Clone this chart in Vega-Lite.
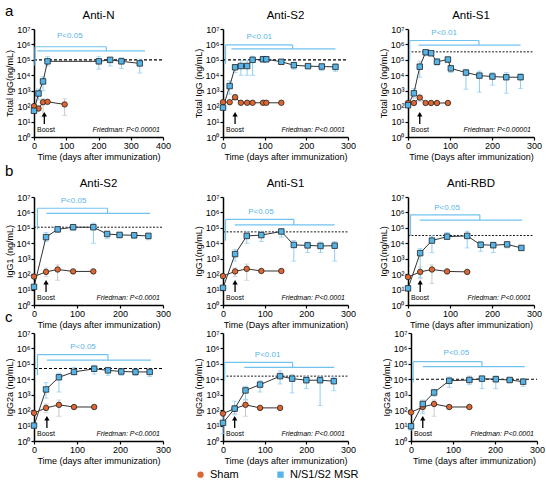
{
"$schema": "https://vega.github.io/schema/vega-lite/v6.json",
"padding": {"left": 5, "top": 3, "right": 3, "bottom": 0},
"config": {
  "font": "Liberation Sans",
  "view": {"stroke": null},
  "axis": {"grid": false, "domainColor": "#000", "domainWidth": 1.5, "tickColor": "#000", "tickWidth": 1.2, "tickSize": 3, "labelFontSize": 9, "labelColor": "#000", "labelPadding": 1, "titleFontSize": 9, "titleFontWeight": "normal", "titleColor": "#000", "titlePadding": 2, "labelFlush": false, "labelOverlap": false},
  "title": {"fontSize": 11.5, "fontWeight": 400, "color": "#000", "offset": 0}
},
"resolve": {"legend": {"fill": "independent", "shape": "independent"}},
"data": {"values": [
{"p":"a1","k":"pt","g":"Sham","x":0,"y":100},
{"p":"a1","k":"pt","g":"Sham","x":14,"y":70,"lo":50,"hi":100},
{"p":"a1","k":"pt","g":"Sham","x":28,"y":180,"lo":20,"hi":300},
{"p":"a1","k":"pt","g":"Sham","x":42,"y":190,"lo":150,"hi":220},
{"p":"a1","k":"pt","g":"Sham","x":95,"y":130,"lo":25,"hi":300},
{"p":"a1","k":"pt","g":"N/S1/S2 MSR","x":0,"y":50,"lo":40,"hi":65},
{"p":"a1","k":"pt","g":"N/S1/S2 MSR","x":14,"y":660,"lo":250,"hi":1300},
{"p":"a1","k":"pt","g":"N/S1/S2 MSR","x":28,"y":4000,"lo":1000,"hi":8000},
{"p":"a1","k":"pt","g":"N/S1/S2 MSR","x":42,"y":80000,"lo":40000,"hi":160000},
{"p":"a1","k":"pt","g":"N/S1/S2 MSR","x":201,"y":80000,"lo":25000,"hi":160000},
{"p":"a1","k":"pt","g":"N/S1/S2 MSR","x":236,"y":100000,"lo":40000,"hi":140000},
{"p":"a1","k":"pt","g":"N/S1/S2 MSR","x":271,"y":80000,"lo":28000,"hi":140000},
{"p":"a1","k":"pt","g":"N/S1/S2 MSR","x":328,"y":59000,"lo":14000,"hi":110000},
{"p":"a1","k":"ref","x":0,"x2":400,"y":100000},
{"p":"a1","k":"br","x":3,"x2":3,"y":42000,"y2":708000},
{"p":"a1","k":"br","x":3,"x2":224,"y":708000,"y2":708000},
{"p":"a1","k":"br","x":224,"x2":224,"y":708000,"y2":380000},
{"p":"a1","k":"br","x":10,"x2":344,"y":380000,"y2":380000},
{"p":"a1","k":"pv","x":111,"y":3400000,"txt":"P<0.05"},
{"p":"a1","k":"arr","x":32,"y":7,"y2":30},
{"p":"a1","k":"bt","x":0,"y":3,"txt":"Boost"},
{"p":"a1","k":"fr","x":400,"y":3,"txt":"Friedman: P<0.00001"},

{"p":"a2","k":"pt","g":"Sham","x":0,"y":180},
{"p":"a2","k":"pt","g":"Sham","x":16,"y":180},
{"p":"a2","k":"pt","g":"Sham","x":29,"y":380,"lo":240,"hi":560},
{"p":"a2","k":"pt","g":"Sham","x":43,"y":165},
{"p":"a2","k":"pt","g":"Sham","x":58,"y":165},
{"p":"a2","k":"pt","g":"Sham","x":71,"y":165},
{"p":"a2","k":"pt","g":"Sham","x":96,"y":165},
{"p":"a2","k":"pt","g":"Sham","x":104,"y":165},
{"p":"a2","k":"pt","g":"Sham","x":140,"y":165},
{"p":"a2","k":"pt","g":"N/S1/S2 MSR","x":0,"y":80,"lo":65,"hi":100},
{"p":"a2","k":"pt","g":"N/S1/S2 MSR","x":16,"y":2000,"lo":600,"hi":4500},
{"p":"a2","k":"pt","g":"N/S1/S2 MSR","x":29,"y":33000,"lo":15000,"hi":45000},
{"p":"a2","k":"pt","g":"N/S1/S2 MSR","x":43,"y":40000,"lo":10000,"hi":90000},
{"p":"a2","k":"pt","g":"N/S1/S2 MSR","x":58,"y":40000,"lo":10000,"hi":90000},
{"p":"a2","k":"pt","g":"N/S1/S2 MSR","x":71,"y":100000,"lo":10000,"hi":170000},
{"p":"a2","k":"pt","g":"N/S1/S2 MSR","x":96,"y":110000,"lo":70000,"hi":140000},
{"p":"a2","k":"pt","g":"N/S1/S2 MSR","x":104,"y":110000,"lo":70000,"hi":140000},
{"p":"a2","k":"pt","g":"N/S1/S2 MSR","x":140,"y":75000,"lo":50000,"hi":100000},
{"p":"a2","k":"pt","g":"N/S1/S2 MSR","x":170,"y":45000,"lo":25000,"hi":70000},
{"p":"a2","k":"pt","g":"N/S1/S2 MSR","x":204,"y":39000,"lo":28000,"hi":50000},
{"p":"a2","k":"pt","g":"N/S1/S2 MSR","x":237,"y":37000,"lo":20000,"hi":55000},
{"p":"a2","k":"pt","g":"N/S1/S2 MSR","x":270,"y":35000,"lo":18000,"hi":55000},
{"p":"a2","k":"ref","x":0,"x2":300,"y":100000},
{"p":"a2","k":"br","x":6,"x2":6,"y":55000,"y2":930000},
{"p":"a2","k":"br","x":6,"x2":167,"y":930000,"y2":930000},
{"p":"a2","k":"br","x":167,"x2":167,"y":930000,"y2":510000},
{"p":"a2","k":"br","x":20,"x2":270,"y":510000,"y2":510000},
{"p":"a2","k":"pv","x":87,"y":2900000,"txt":"P<0.01"},
{"p":"a2","k":"arr","x":29,"y":7,"y2":30},
{"p":"a2","k":"bt","x":0,"y":3,"txt":"Boost"},
{"p":"a2","k":"fr","x":300,"y":3,"txt":"Friedman: P<0.0001"},

{"p":"a3","k":"pt","g":"Sham","x":0,"y":160},
{"p":"a3","k":"pt","g":"Sham","x":14,"y":160},
{"p":"a3","k":"pt","g":"Sham","x":28,"y":360,"lo":200,"hi":500},
{"p":"a3","k":"pt","g":"Sham","x":42,"y":160},
{"p":"a3","k":"pt","g":"Sham","x":55,"y":160},
{"p":"a3","k":"pt","g":"Sham","x":69,"y":160},
{"p":"a3","k":"pt","g":"Sham","x":95,"y":160},
{"p":"a3","k":"pt","g":"N/S1/S2 MSR","x":0,"y":115,"lo":85,"hi":160},
{"p":"a3","k":"pt","g":"N/S1/S2 MSR","x":14,"y":680,"lo":330,"hi":1400},
{"p":"a3","k":"pt","g":"N/S1/S2 MSR","x":28,"y":36000,"lo":7500,"hi":83000},
{"p":"a3","k":"pt","g":"N/S1/S2 MSR","x":42,"y":310000,"lo":200000,"hi":400000},
{"p":"a3","k":"pt","g":"N/S1/S2 MSR","x":55,"y":270000,"lo":180000,"hi":350000},
{"p":"a3","k":"pt","g":"N/S1/S2 MSR","x":69,"y":75000,"lo":45000,"hi":120000},
{"p":"a3","k":"pt","g":"N/S1/S2 MSR","x":95,"y":105000,"lo":70000,"hi":150000},
{"p":"a3","k":"pt","g":"N/S1/S2 MSR","x":102,"y":28000,"lo":15000,"hi":45000},
{"p":"a3","k":"pt","g":"N/S1/S2 MSR","x":138,"y":15000,"lo":1250,"hi":24000},
{"p":"a3","k":"pt","g":"N/S1/S2 MSR","x":170,"y":9500,"lo":800,"hi":19000},
{"p":"a3","k":"pt","g":"N/S1/S2 MSR","x":201,"y":8300,"lo":2300,"hi":15000},
{"p":"a3","k":"pt","g":"N/S1/S2 MSR","x":234,"y":7500,"lo":680,"hi":15000},
{"p":"a3","k":"pt","g":"N/S1/S2 MSR","x":268,"y":7500,"lo":1400,"hi":13000},
{"p":"a3","k":"ref","x":0,"x2":300,"y":330000},
{"p":"a3","k":"br","x":4,"x2":4,"y":87000,"y2":1800000},
{"p":"a3","k":"br","x":4,"x2":169,"y":1800000,"y2":1800000},
{"p":"a3","k":"br","x":169,"x2":169,"y":1800000,"y2":890000},
{"p":"a3","k":"br","x":25,"x2":268,"y":890000,"y2":890000},
{"p":"a3","k":"pv","x":86,"y":5900000,"txt":"P<0.01"},
{"p":"a3","k":"arr","x":28,"y":7,"y2":30},
{"p":"a3","k":"bt","x":0,"y":3,"txt":"Boost"},
{"p":"a3","k":"fr","x":300,"y":3,"txt":"Friedman: P<0.00001"},

{"p":"b1","k":"pt","g":"Sham","x":0,"y":70},
{"p":"b1","k":"pt","g":"Sham","x":28,"y":140,"lo":70,"hi":250},
{"p":"b1","k":"pt","g":"Sham","x":55,"y":200,"lo":40,"hi":400},
{"p":"b1","k":"pt","g":"Sham","x":91,"y":150},
{"p":"b1","k":"pt","g":"Sham","x":138,"y":150},
{"p":"b1","k":"pt","g":"N/S1/S2 MSR","x":0,"y":15,"lo":12,"hi":20},
{"p":"b1","k":"pt","g":"N/S1/S2 MSR","x":28,"y":25000,"lo":13000,"hi":50000},
{"p":"b1","k":"pt","g":"N/S1/S2 MSR","x":55,"y":80000,"lo":50000,"hi":120000},
{"p":"b1","k":"pt","g":"N/S1/S2 MSR","x":91,"y":110000,"lo":70000,"hi":150000},
{"p":"b1","k":"pt","g":"N/S1/S2 MSR","x":138,"y":110000,"lo":10000,"hi":200000},
{"p":"b1","k":"pt","g":"N/S1/S2 MSR","x":170,"y":40000,"lo":20000,"hi":60000},
{"p":"b1","k":"pt","g":"N/S1/S2 MSR","x":199,"y":35000,"lo":22000,"hi":50000},
{"p":"b1","k":"pt","g":"N/S1/S2 MSR","x":233,"y":33000,"lo":20000,"hi":45000},
{"p":"b1","k":"pt","g":"N/S1/S2 MSR","x":266,"y":30000,"lo":17000,"hi":45000},
{"p":"b1","k":"ref","x":0,"x2":300,"y":110000},
{"p":"b1","k":"br","x":8,"x2":8,"y":80000,"y2":1860000},
{"p":"b1","k":"br","x":8,"x2":171,"y":1860000,"y2":1860000},
{"p":"b1","k":"br","x":171,"x2":171,"y":1860000,"y2":870000},
{"p":"b1","k":"br","x":29,"x2":270,"y":870000,"y2":870000},
{"p":"b1","k":"pv","x":92,"y":5400000,"txt":"P<0.05"},
{"p":"b1","k":"arr","x":28,"y":7,"y2":30},
{"p":"b1","k":"bt","x":0,"y":3,"txt":"Boost"},
{"p":"b1","k":"fr","x":300,"y":3,"txt":"Friedman: P<0.0001"},

{"p":"b2","k":"pt","g":"Sham","x":0,"y":75},
{"p":"b2","k":"pt","g":"Sham","x":29,"y":150,"lo":70,"hi":250},
{"p":"b2","k":"pt","g":"Sham","x":57,"y":220,"lo":40,"hi":450},
{"p":"b2","k":"pt","g":"Sham","x":92,"y":160},
{"p":"b2","k":"pt","g":"Sham","x":140,"y":160},
{"p":"b2","k":"pt","g":"N/S1/S2 MSR","x":0,"y":13,"lo":10,"hi":17},
{"p":"b2","k":"pt","g":"N/S1/S2 MSR","x":29,"y":2000,"lo":700,"hi":4000},
{"p":"b2","k":"pt","g":"N/S1/S2 MSR","x":57,"y":30000,"lo":10000,"hi":60000},
{"p":"b2","k":"pt","g":"N/S1/S2 MSR","x":92,"y":34000,"lo":13000,"hi":60000},
{"p":"b2","k":"pt","g":"N/S1/S2 MSR","x":140,"y":58000,"lo":25000,"hi":90000},
{"p":"b2","k":"pt","g":"N/S1/S2 MSR","x":170,"y":7800,"lo":700,"hi":15000},
{"p":"b2","k":"pt","g":"N/S1/S2 MSR","x":203,"y":7300,"lo":2500,"hi":12000},
{"p":"b2","k":"pt","g":"N/S1/S2 MSR","x":234,"y":6700,"lo":2500,"hi":12000},
{"p":"b2","k":"pt","g":"N/S1/S2 MSR","x":268,"y":7000,"lo":700,"hi":13000},
{"p":"b2","k":"ref","x":0,"x2":300,"y":55000},
{"p":"b2","k":"br","x":6,"x2":6,"y":14500,"y2":355000},
{"p":"b2","k":"br","x":6,"x2":170,"y":355000,"y2":355000},
{"p":"b2","k":"br","x":170,"x2":170,"y":355000,"y2":155000},
{"p":"b2","k":"br","x":28,"x2":268,"y":155000,"y2":155000},
{"p":"b2","k":"pv","x":91,"y":1050000,"txt":"P<0.05"},
{"p":"b2","k":"arr","x":29,"y":7,"y2":30},
{"p":"b2","k":"bt","x":0,"y":3,"txt":"Boost"},
{"p":"b2","k":"fr","x":300,"y":3,"txt":"Friedman: P<0.0001"},

{"p":"b3","k":"pt","g":"Sham","x":0,"y":65},
{"p":"b3","k":"pt","g":"Sham","x":29,"y":140,"lo":50,"hi":300},
{"p":"b3","k":"pt","g":"Sham","x":57,"y":200,"lo":25,"hi":400},
{"p":"b3","k":"pt","g":"Sham","x":93,"y":150},
{"p":"b3","k":"pt","g":"Sham","x":141,"y":140},
{"p":"b3","k":"pt","g":"N/S1/S2 MSR","x":0,"y":12,"lo":10,"hi":15},
{"p":"b3","k":"pt","g":"N/S1/S2 MSR","x":29,"y":2300,"lo":60,"hi":4500},
{"p":"b3","k":"pt","g":"N/S1/S2 MSR","x":57,"y":15000,"lo":2500,"hi":30000},
{"p":"b3","k":"pt","g":"N/S1/S2 MSR","x":93,"y":27000,"lo":18000,"hi":50000},
{"p":"b3","k":"pt","g":"N/S1/S2 MSR","x":141,"y":30000,"lo":5000,"hi":60000},
{"p":"b3","k":"pt","g":"N/S1/S2 MSR","x":173,"y":8000,"lo":3000,"hi":13000},
{"p":"b3","k":"pt","g":"N/S1/S2 MSR","x":203,"y":7500,"lo":2500,"hi":12000},
{"p":"b3","k":"pt","g":"N/S1/S2 MSR","x":236,"y":8500,"lo":5000,"hi":12000},
{"p":"b3","k":"pt","g":"N/S1/S2 MSR","x":270,"y":5000,"lo":3500,"hi":6500},
{"p":"b3","k":"ref","x":0,"x2":300,"y":32000},
{"p":"b3","k":"br","x":6,"x2":6,"y":30000,"y2":700000},
{"p":"b3","k":"br","x":6,"x2":171,"y":700000,"y2":700000},
{"p":"b3","k":"br","x":171,"x2":171,"y":700000,"y2":320000},
{"p":"b3","k":"br","x":28,"x2":272,"y":320000,"y2":320000},
{"p":"b3","k":"pv","x":93,"y":2000000,"txt":"P<0.05"},
{"p":"b3","k":"arr","x":29,"y":7,"y2":30},
{"p":"b3","k":"bt","x":0,"y":3,"txt":"Boost"},
{"p":"b3","k":"fr","x":300,"y":3,"txt":"Friedman: P<0.0001"},

{"p":"c1","k":"pt","g":"Sham","x":0,"y":66},
{"p":"c1","k":"pt","g":"Sham","x":28,"y":140,"lo":70,"hi":250},
{"p":"c1","k":"pt","g":"Sham","x":58,"y":220,"lo":40,"hi":450},
{"p":"c1","k":"pt","g":"Sham","x":93,"y":160},
{"p":"c1","k":"pt","g":"Sham","x":140,"y":160},
{"p":"c1","k":"pt","g":"N/S1/S2 MSR","x":0,"y":10,"lo":8,"hi":12},
{"p":"c1","k":"pt","g":"N/S1/S2 MSR","x":28,"y":2200,"lo":600,"hi":6000},
{"p":"c1","k":"pt","g":"N/S1/S2 MSR","x":58,"y":13500,"lo":1500,"hi":25000},
{"p":"c1","k":"pt","g":"N/S1/S2 MSR","x":93,"y":30000,"lo":20000,"hi":60000},
{"p":"c1","k":"pt","g":"N/S1/S2 MSR","x":140,"y":48000,"lo":22000,"hi":80000},
{"p":"c1","k":"pt","g":"N/S1/S2 MSR","x":172,"y":38000,"lo":18000,"hi":60000},
{"p":"c1","k":"pt","g":"N/S1/S2 MSR","x":203,"y":32000,"lo":18000,"hi":45000},
{"p":"c1","k":"pt","g":"N/S1/S2 MSR","x":236,"y":30000,"lo":18000,"hi":45000},
{"p":"c1","k":"pt","g":"N/S1/S2 MSR","x":269,"y":30000,"lo":15000,"hi":45000},
{"p":"c1","k":"ref","x":0,"x2":300,"y":50000},
{"p":"c1","k":"br","x":8,"x2":8,"y":18600,"y2":400000},
{"p":"c1","k":"br","x":8,"x2":172,"y":400000,"y2":400000},
{"p":"c1","k":"br","x":172,"x2":172,"y":400000,"y2":174000},
{"p":"c1","k":"br","x":30,"x2":272,"y":174000,"y2":174000},
{"p":"c1","k":"pv","x":114,"y":1300000,"txt":"P<0.05"},
{"p":"c1","k":"arr","x":30,"y":7,"y2":30},
{"p":"c1","k":"bt","x":0,"y":3,"txt":"Boost"},
{"p":"c1","k":"fr","x":300,"y":3,"txt":"Friedman: P<0.0001"},

{"p":"c2","k":"pt","g":"Sham","x":0,"y":60},
{"p":"c2","k":"pt","g":"Sham","x":28,"y":125,"lo":60,"hi":200},
{"p":"c2","k":"pt","g":"Sham","x":54,"y":220,"lo":40,"hi":450},
{"p":"c2","k":"pt","g":"Sham","x":89,"y":140},
{"p":"c2","k":"pt","g":"Sham","x":137,"y":140},
{"p":"c2","k":"pt","g":"N/S1/S2 MSR","x":0,"y":15,"lo":3,"hi":80},
{"p":"c2","k":"pt","g":"N/S1/S2 MSR","x":28,"y":125,"lo":50,"hi":380},
{"p":"c2","k":"pt","g":"N/S1/S2 MSR","x":54,"y":1900,"lo":500,"hi":3500},
{"p":"c2","k":"pt","g":"N/S1/S2 MSR","x":89,"y":4500,"lo":1500,"hi":8000},
{"p":"c2","k":"pt","g":"N/S1/S2 MSR","x":137,"y":16000,"lo":5000,"hi":35000},
{"p":"c2","k":"pt","g":"N/S1/S2 MSR","x":166,"y":11000,"lo":1300,"hi":20000},
{"p":"c2","k":"pt","g":"N/S1/S2 MSR","x":200,"y":8700,"lo":2500,"hi":15000},
{"p":"c2","k":"pt","g":"N/S1/S2 MSR","x":233,"y":8700,"lo":200,"hi":16000},
{"p":"c2","k":"pt","g":"N/S1/S2 MSR","x":266,"y":7500,"lo":1800,"hi":14000},
{"p":"c2","k":"ref","x":0,"x2":300,"y":16000},
{"p":"c2","k":"br","x":4,"x2":4,"y":7600,"y2":126000},
{"p":"c2","k":"br","x":4,"x2":167,"y":126000,"y2":126000},
{"p":"c2","k":"br","x":167,"x2":167,"y":126000,"y2":60000},
{"p":"c2","k":"br","x":51,"x2":267,"y":60000,"y2":60000},
{"p":"c2","k":"pv","x":107,"y":400000,"txt":"P<0.01"},
{"p":"c2","k":"arr","x":28,"y":7,"y2":30},
{"p":"c2","k":"bt","x":0,"y":3,"txt":"Boost"},
{"p":"c2","k":"fr","x":300,"y":3,"txt":"Friedman: P<0.0001"},

{"p":"c3","k":"pt","g":"Sham","x":0,"y":72},
{"p":"c3","k":"pt","g":"Sham","x":28,"y":160,"lo":80,"hi":300},
{"p":"c3","k":"pt","g":"Sham","x":55,"y":250,"lo":40,"hi":450},
{"p":"c3","k":"pt","g":"Sham","x":91,"y":160},
{"p":"c3","k":"pt","g":"Sham","x":139,"y":160},
{"p":"c3","k":"pt","g":"N/S1/S2 MSR","x":0,"y":9,"lo":5,"hi":13},
{"p":"c3","k":"pt","g":"N/S1/S2 MSR","x":28,"y":250,"lo":60,"hi":450},
{"p":"c3","k":"pt","g":"N/S1/S2 MSR","x":55,"y":1400,"lo":800,"hi":2200},
{"p":"c3","k":"pt","g":"N/S1/S2 MSR","x":91,"y":8000,"lo":3000,"hi":14000},
{"p":"c3","k":"pt","g":"N/S1/S2 MSR","x":139,"y":9000,"lo":4500,"hi":16000},
{"p":"c3","k":"pt","g":"N/S1/S2 MSR","x":169,"y":11000,"lo":2500,"hi":16000},
{"p":"c3","k":"pt","g":"N/S1/S2 MSR","x":202,"y":10000,"lo":2500,"hi":17000},
{"p":"c3","k":"pt","g":"N/S1/S2 MSR","x":235,"y":9000,"lo":6000,"hi":12000},
{"p":"c3","k":"pt","g":"N/S1/S2 MSR","x":267,"y":7000,"lo":3500,"hi":10000},
{"p":"c3","k":"ref","x":0,"x2":300,"y":10000},
{"p":"c3","k":"br","x":5,"x2":5,"y":6300,"y2":138000},
{"p":"c3","k":"br","x":5,"x2":169,"y":138000,"y2":138000},
{"p":"c3","k":"br","x":169,"x2":169,"y":138000,"y2":66000},
{"p":"c3","k":"br","x":28,"x2":271,"y":66000,"y2":66000},
{"p":"c3","k":"pv","x":108,"y":470000,"txt":"P<0.05"},
{"p":"c3","k":"arr","x":28,"y":7,"y2":30},
{"p":"c3","k":"bt","x":0,"y":3,"txt":"Boost"},
{"p":"c3","k":"fr","x":300,"y":3,"txt":"Friedman: P<0.0001"}
]},
"spacing": -19,
"vconcat": [
{"spacing": 2, "vconcat": [
{"spacing": 23, "title": {"text": "a", "anchor": "start", "fontSize": 15, "fontWeight": 400, "dy": 13},
 "hconcat": [
{"title": "Anti-N", "width": 129, "height": 108, "transform": [{"filter": "datum.p=='a1'"}],
 "encoding": {"x": {"field": "x", "type": "quantitative", "scale": {"domain": [0, 400], "nice": false}, "axis": {"title": "Time (days after immunization)", "values": [0, 100, 200, 300, 400]}},
  "y": {"field": "y", "type": "quantitative", "scale": {"type": "log", "domain": [1, 10000000], "nice": false}, "axis": {"title": "Total IgG(ng/mL)", "values": [1, 10, 100, 1000, 10000, 100000, 1000000, 10000000], "labelExpr": "'10' + ['⁰','¹','²','³','⁴','⁵','⁶','⁷'][round(log(datum.value)/LN10)]"}}},
 "layer": [
  {"transform": [{"filter": "datum.k=='ref'"}], "mark": {"type": "rule", "strokeDash": [3, 2], "color": "#000", "strokeWidth": 1.1}, "encoding": {"x2": {"field": "x2"}}},
  {"transform": [{"filter": "datum.k=='br'"}], "mark": {"type": "rule", "color": "#72c2ee", "strokeWidth": 1.2}, "encoding": {"x2": {"field": "x2"}, "y2": {"field": "y2"}}},
  {"transform": [{"filter": "datum.k=='pt'"}], "mark": {"type": "rule", "strokeWidth": 1}, "encoding": {"y": {"field": "lo", "type": "quantitative", "scale": {"type": "log", "domain": [1, 10000000], "nice": false}}, "y2": {"field": "hi"}, "color": {"field": "g", "type": "nominal", "scale": {"domain": ["Sham", "N/S1/S2 MSR"], "range": ["#c8c8c8", "#8ccdf1"]}, "legend": null}}},
  {"transform": [{"filter": "datum.k=='pt'"}, {"fold": ["lo", "hi"], "as": ["cap", "cy"]}], "mark": {"type": "tick", "orient": "horizontal", "size": 5, "thickness": 1}, "encoding": {"y": {"field": "cy", "type": "quantitative", "scale": {"type": "log", "domain": [1, 10000000], "nice": false}}, "color": {"field": "g", "type": "nominal", "scale": {"domain": ["Sham", "N/S1/S2 MSR"], "range": ["#c8c8c8", "#8ccdf1"]}, "legend": null}}},
  {"transform": [{"filter": "datum.k=='pt'"}], "mark": {"type": "line", "color": "#333", "strokeWidth": 1}, "encoding": {"detail": {"field": "g"}}},
  {"transform": [{"filter": "datum.k=='pt'"}], "mark": {"type": "point", "filled": true, "size": 30, "stroke": "#222", "strokeWidth": 0.8, "opacity": 1}, "encoding": {"fill": {"field": "g", "type": "nominal", "scale": {"domain": ["Sham", "N/S1/S2 MSR"], "range": ["#dd6631", "#55b4e8"]}, "legend": null}, "shape": {"field": "g", "type": "nominal", "scale": {"domain": ["Sham", "N/S1/S2 MSR"], "range": ["circle", "square"]}, "legend": null}}},
  {"transform": [{"filter": "datum.k=='arr'"}], "mark": {"type": "rule", "color": "#000", "strokeWidth": 1.3}, "encoding": {"y2": {"field": "y2"}}},
  {"transform": [{"filter": "datum.k=='arr'"}], "mark": {"type": "point", "shape": "triangle-up", "filled": true, "color": "#000", "size": 28, "opacity": 1}, "encoding": {"y": {"field": "y2", "type": "quantitative", "scale": {"type": "log", "domain": [1, 10000000], "nice": false}}}},
  {"transform": [{"filter": "datum.k=='pv'"}], "mark": {"type": "text", "color": "#5ab4e6", "fontSize": 8}, "encoding": {"text": {"field": "txt"}}},
  {"transform": [{"filter": "datum.k=='bt'"}], "mark": {"type": "text", "align": "left", "dx": 3, "fontSize": 7}, "encoding": {"text": {"field": "txt"}}},
  {"transform": [{"filter": "datum.k=='fr'"}], "mark": {"type": "text", "align": "right", "dx": -3, "fontSize": 7, "fontStyle": "italic"}, "encoding": {"text": {"field": "txt"}}}
 ]},
{"title": "Anti-S2", "width": 125, "height": 108, "transform": [{"filter": "datum.p=='a2'"}],
 "encoding": {"x": {"field": "x", "type": "quantitative", "scale": {"domain": [0, 300], "nice": false}, "axis": {"title": "Time (days after immunization)", "values": [0, 100, 200, 300]}},
  "y": {"field": "y", "type": "quantitative", "scale": {"type": "log", "domain": [1, 10000000], "nice": false}, "axis": {"title": "Total IgG (ng/mL)", "values": [1, 10, 100, 1000, 10000, 100000, 1000000, 10000000], "labelExpr": "'10' + ['⁰','¹','²','³','⁴','⁵','⁶','⁷'][round(log(datum.value)/LN10)]"}}},
 "layer": [
  {"transform": [{"filter": "datum.k=='ref'"}], "mark": {"type": "rule", "strokeDash": [3, 2], "color": "#000", "strokeWidth": 1.1}, "encoding": {"x2": {"field": "x2"}}},
  {"transform": [{"filter": "datum.k=='br'"}], "mark": {"type": "rule", "color": "#72c2ee", "strokeWidth": 1.2}, "encoding": {"x2": {"field": "x2"}, "y2": {"field": "y2"}}},
  {"transform": [{"filter": "datum.k=='pt'"}], "mark": {"type": "rule", "strokeWidth": 1}, "encoding": {"y": {"field": "lo", "type": "quantitative", "scale": {"type": "log", "domain": [1, 10000000], "nice": false}}, "y2": {"field": "hi"}, "color": {"field": "g", "type": "nominal", "scale": {"domain": ["Sham", "N/S1/S2 MSR"], "range": ["#c8c8c8", "#8ccdf1"]}, "legend": null}}},
  {"transform": [{"filter": "datum.k=='pt'"}, {"fold": ["lo", "hi"], "as": ["cap", "cy"]}], "mark": {"type": "tick", "orient": "horizontal", "size": 5, "thickness": 1}, "encoding": {"y": {"field": "cy", "type": "quantitative", "scale": {"type": "log", "domain": [1, 10000000], "nice": false}}, "color": {"field": "g", "type": "nominal", "scale": {"domain": ["Sham", "N/S1/S2 MSR"], "range": ["#c8c8c8", "#8ccdf1"]}, "legend": null}}},
  {"transform": [{"filter": "datum.k=='pt'"}], "mark": {"type": "line", "color": "#333", "strokeWidth": 1}, "encoding": {"detail": {"field": "g"}}},
  {"transform": [{"filter": "datum.k=='pt'"}], "mark": {"type": "point", "filled": true, "size": 30, "stroke": "#222", "strokeWidth": 0.8, "opacity": 1}, "encoding": {"fill": {"field": "g", "type": "nominal", "scale": {"domain": ["Sham", "N/S1/S2 MSR"], "range": ["#dd6631", "#55b4e8"]}, "legend": null}, "shape": {"field": "g", "type": "nominal", "scale": {"domain": ["Sham", "N/S1/S2 MSR"], "range": ["circle", "square"]}, "legend": null}}},
  {"transform": [{"filter": "datum.k=='arr'"}], "mark": {"type": "rule", "color": "#000", "strokeWidth": 1.3}, "encoding": {"y2": {"field": "y2"}}},
  {"transform": [{"filter": "datum.k=='arr'"}], "mark": {"type": "point", "shape": "triangle-up", "filled": true, "color": "#000", "size": 28, "opacity": 1}, "encoding": {"y": {"field": "y2", "type": "quantitative", "scale": {"type": "log", "domain": [1, 10000000], "nice": false}}}},
  {"transform": [{"filter": "datum.k=='pv'"}], "mark": {"type": "text", "color": "#5ab4e6", "fontSize": 8}, "encoding": {"text": {"field": "txt"}}},
  {"transform": [{"filter": "datum.k=='bt'"}], "mark": {"type": "text", "align": "left", "dx": 3, "fontSize": 7}, "encoding": {"text": {"field": "txt"}}},
  {"transform": [{"filter": "datum.k=='fr'"}], "mark": {"type": "text", "align": "right", "dx": -3, "fontSize": 7, "fontStyle": "italic"}, "encoding": {"text": {"field": "txt"}}}
 ]},
{"title": "Anti-S1", "width": 126, "height": 108, "transform": [{"filter": "datum.p=='a3'"}],
 "encoding": {"x": {"field": "x", "type": "quantitative", "scale": {"domain": [0, 300], "nice": false}, "axis": {"title": "Time (Days after immunization)", "values": [0, 100, 200, 300]}},
  "y": {"field": "y", "type": "quantitative", "scale": {"type": "log", "domain": [1, 10000000], "nice": false}, "axis": {"title": "Total IgG (ng/mL)", "values": [1, 10, 100, 1000, 10000, 100000, 1000000, 10000000], "labelExpr": "'10' + ['⁰','¹','²','³','⁴','⁵','⁶','⁷'][round(log(datum.value)/LN10)]"}}},
 "layer": [
  {"transform": [{"filter": "datum.k=='ref'"}], "mark": {"type": "rule", "strokeDash": [2, 1.5], "color": "#000", "strokeWidth": 0.9}, "encoding": {"x2": {"field": "x2"}}},
  {"transform": [{"filter": "datum.k=='br'"}], "mark": {"type": "rule", "color": "#72c2ee", "strokeWidth": 1.2}, "encoding": {"x2": {"field": "x2"}, "y2": {"field": "y2"}}},
  {"transform": [{"filter": "datum.k=='pt'"}], "mark": {"type": "rule", "strokeWidth": 1}, "encoding": {"y": {"field": "lo", "type": "quantitative", "scale": {"type": "log", "domain": [1, 10000000], "nice": false}}, "y2": {"field": "hi"}, "color": {"field": "g", "type": "nominal", "scale": {"domain": ["Sham", "N/S1/S2 MSR"], "range": ["#c8c8c8", "#8ccdf1"]}, "legend": null}}},
  {"transform": [{"filter": "datum.k=='pt'"}, {"fold": ["lo", "hi"], "as": ["cap", "cy"]}], "mark": {"type": "tick", "orient": "horizontal", "size": 5, "thickness": 1}, "encoding": {"y": {"field": "cy", "type": "quantitative", "scale": {"type": "log", "domain": [1, 10000000], "nice": false}}, "color": {"field": "g", "type": "nominal", "scale": {"domain": ["Sham", "N/S1/S2 MSR"], "range": ["#c8c8c8", "#8ccdf1"]}, "legend": null}}},
  {"transform": [{"filter": "datum.k=='pt'"}], "mark": {"type": "line", "color": "#333", "strokeWidth": 1}, "encoding": {"detail": {"field": "g"}}},
  {"transform": [{"filter": "datum.k=='pt'"}], "mark": {"type": "point", "filled": true, "size": 30, "stroke": "#222", "strokeWidth": 0.8, "opacity": 1}, "encoding": {"fill": {"field": "g", "type": "nominal", "scale": {"domain": ["Sham", "N/S1/S2 MSR"], "range": ["#dd6631", "#55b4e8"]}, "legend": null}, "shape": {"field": "g", "type": "nominal", "scale": {"domain": ["Sham", "N/S1/S2 MSR"], "range": ["circle", "square"]}, "legend": null}}},
  {"transform": [{"filter": "datum.k=='arr'"}], "mark": {"type": "rule", "color": "#000", "strokeWidth": 1.3}, "encoding": {"y2": {"field": "y2"}}},
  {"transform": [{"filter": "datum.k=='arr'"}], "mark": {"type": "point", "shape": "triangle-up", "filled": true, "color": "#000", "size": 28, "opacity": 1}, "encoding": {"y": {"field": "y2", "type": "quantitative", "scale": {"type": "log", "domain": [1, 10000000], "nice": false}}}},
  {"transform": [{"filter": "datum.k=='pv'"}], "mark": {"type": "text", "color": "#5ab4e6", "fontSize": 8}, "encoding": {"text": {"field": "txt"}}},
  {"transform": [{"filter": "datum.k=='bt'"}], "mark": {"type": "text", "align": "left", "dx": 3, "fontSize": 7}, "encoding": {"text": {"field": "txt"}}},
  {"transform": [{"filter": "datum.k=='fr'"}], "mark": {"type": "text", "align": "right", "dx": -3, "fontSize": 7, "fontStyle": "italic"}, "encoding": {"text": {"field": "txt"}}}
 ]}
]},
{"spacing": 23, "title": {"text": "b", "anchor": "start", "fontSize": 15, "fontWeight": 400, "dy": 5},
 "hconcat": [
{"title": "Anti-S2", "width": 129, "height": 108, "transform": [{"filter": "datum.p=='b1'"}],
 "encoding": {"x": {"field": "x", "type": "quantitative", "scale": {"domain": [0, 300], "nice": false}, "axis": {"title": "Time (days after immunization)", "values": [0, 100, 200, 300]}},
  "y": {"field": "y", "type": "quantitative", "scale": {"type": "log", "domain": [1, 10000000], "nice": false}, "axis": {"title": "IgG1 (ng/mL)", "values": [1, 10, 100, 1000, 10000, 100000, 1000000, 10000000], "labelExpr": "'10' + ['⁰','¹','²','³','⁴','⁵','⁶','⁷'][round(log(datum.value)/LN10)]"}}},
 "layer": [
  {"transform": [{"filter": "datum.k=='ref'"}], "mark": {"type": "rule", "strokeDash": [2, 1.5], "color": "#000", "strokeWidth": 0.9}, "encoding": {"x2": {"field": "x2"}}},
  {"transform": [{"filter": "datum.k=='br'"}], "mark": {"type": "rule", "color": "#72c2ee", "strokeWidth": 1.2}, "encoding": {"x2": {"field": "x2"}, "y2": {"field": "y2"}}},
  {"transform": [{"filter": "datum.k=='pt'"}], "mark": {"type": "rule", "strokeWidth": 1}, "encoding": {"y": {"field": "lo", "type": "quantitative", "scale": {"type": "log", "domain": [1, 10000000], "nice": false}}, "y2": {"field": "hi"}, "color": {"field": "g", "type": "nominal", "scale": {"domain": ["Sham", "N/S1/S2 MSR"], "range": ["#c8c8c8", "#8ccdf1"]}, "legend": null}}},
  {"transform": [{"filter": "datum.k=='pt'"}, {"fold": ["lo", "hi"], "as": ["cap", "cy"]}], "mark": {"type": "tick", "orient": "horizontal", "size": 5, "thickness": 1}, "encoding": {"y": {"field": "cy", "type": "quantitative", "scale": {"type": "log", "domain": [1, 10000000], "nice": false}}, "color": {"field": "g", "type": "nominal", "scale": {"domain": ["Sham", "N/S1/S2 MSR"], "range": ["#c8c8c8", "#8ccdf1"]}, "legend": null}}},
  {"transform": [{"filter": "datum.k=='pt'"}], "mark": {"type": "line", "color": "#333", "strokeWidth": 1}, "encoding": {"detail": {"field": "g"}}},
  {"transform": [{"filter": "datum.k=='pt'"}], "mark": {"type": "point", "filled": true, "size": 30, "stroke": "#222", "strokeWidth": 0.8, "opacity": 1}, "encoding": {"fill": {"field": "g", "type": "nominal", "scale": {"domain": ["Sham", "N/S1/S2 MSR"], "range": ["#dd6631", "#55b4e8"]}, "legend": null}, "shape": {"field": "g", "type": "nominal", "scale": {"domain": ["Sham", "N/S1/S2 MSR"], "range": ["circle", "square"]}, "legend": null}}},
  {"transform": [{"filter": "datum.k=='arr'"}], "mark": {"type": "rule", "color": "#000", "strokeWidth": 1.3}, "encoding": {"y2": {"field": "y2"}}},
  {"transform": [{"filter": "datum.k=='arr'"}], "mark": {"type": "point", "shape": "triangle-up", "filled": true, "color": "#000", "size": 28, "opacity": 1}, "encoding": {"y": {"field": "y2", "type": "quantitative", "scale": {"type": "log", "domain": [1, 10000000], "nice": false}}}},
  {"transform": [{"filter": "datum.k=='pv'"}], "mark": {"type": "text", "color": "#5ab4e6", "fontSize": 8}, "encoding": {"text": {"field": "txt"}}},
  {"transform": [{"filter": "datum.k=='bt'"}], "mark": {"type": "text", "align": "left", "dx": 3, "fontSize": 7}, "encoding": {"text": {"field": "txt"}}},
  {"transform": [{"filter": "datum.k=='fr'"}], "mark": {"type": "text", "align": "right", "dx": -3, "fontSize": 7, "fontStyle": "italic"}, "encoding": {"text": {"field": "txt"}}}
 ]},
{"title": "Anti-S1", "width": 125, "height": 108, "transform": [{"filter": "datum.p=='b2'"}],
 "encoding": {"x": {"field": "x", "type": "quantitative", "scale": {"domain": [0, 300], "nice": false}, "axis": {"title": "Time (Days after immunization)", "values": [0, 100, 200, 300]}},
  "y": {"field": "y", "type": "quantitative", "scale": {"type": "log", "domain": [1, 10000000], "nice": false}, "axis": {"title": "IgG1(ng/mL)", "values": [1, 10, 100, 1000, 10000, 100000, 1000000, 10000000], "labelExpr": "'10' + ['⁰','¹','²','³','⁴','⁵','⁶','⁷'][round(log(datum.value)/LN10)]"}}},
 "layer": [
  {"transform": [{"filter": "datum.k=='ref'"}], "mark": {"type": "rule", "strokeDash": [2, 1.5], "color": "#000", "strokeWidth": 0.9}, "encoding": {"x2": {"field": "x2"}}},
  {"transform": [{"filter": "datum.k=='br'"}], "mark": {"type": "rule", "color": "#72c2ee", "strokeWidth": 1.2}, "encoding": {"x2": {"field": "x2"}, "y2": {"field": "y2"}}},
  {"transform": [{"filter": "datum.k=='pt'"}], "mark": {"type": "rule", "strokeWidth": 1}, "encoding": {"y": {"field": "lo", "type": "quantitative", "scale": {"type": "log", "domain": [1, 10000000], "nice": false}}, "y2": {"field": "hi"}, "color": {"field": "g", "type": "nominal", "scale": {"domain": ["Sham", "N/S1/S2 MSR"], "range": ["#c8c8c8", "#8ccdf1"]}, "legend": null}}},
  {"transform": [{"filter": "datum.k=='pt'"}, {"fold": ["lo", "hi"], "as": ["cap", "cy"]}], "mark": {"type": "tick", "orient": "horizontal", "size": 5, "thickness": 1}, "encoding": {"y": {"field": "cy", "type": "quantitative", "scale": {"type": "log", "domain": [1, 10000000], "nice": false}}, "color": {"field": "g", "type": "nominal", "scale": {"domain": ["Sham", "N/S1/S2 MSR"], "range": ["#c8c8c8", "#8ccdf1"]}, "legend": null}}},
  {"transform": [{"filter": "datum.k=='pt'"}], "mark": {"type": "line", "color": "#333", "strokeWidth": 1}, "encoding": {"detail": {"field": "g"}}},
  {"transform": [{"filter": "datum.k=='pt'"}], "mark": {"type": "point", "filled": true, "size": 30, "stroke": "#222", "strokeWidth": 0.8, "opacity": 1}, "encoding": {"fill": {"field": "g", "type": "nominal", "scale": {"domain": ["Sham", "N/S1/S2 MSR"], "range": ["#dd6631", "#55b4e8"]}, "legend": null}, "shape": {"field": "g", "type": "nominal", "scale": {"domain": ["Sham", "N/S1/S2 MSR"], "range": ["circle", "square"]}, "legend": null}}},
  {"transform": [{"filter": "datum.k=='arr'"}], "mark": {"type": "rule", "color": "#000", "strokeWidth": 1.3}, "encoding": {"y2": {"field": "y2"}}},
  {"transform": [{"filter": "datum.k=='arr'"}], "mark": {"type": "point", "shape": "triangle-up", "filled": true, "color": "#000", "size": 28, "opacity": 1}, "encoding": {"y": {"field": "y2", "type": "quantitative", "scale": {"type": "log", "domain": [1, 10000000], "nice": false}}}},
  {"transform": [{"filter": "datum.k=='pv'"}], "mark": {"type": "text", "color": "#5ab4e6", "fontSize": 8}, "encoding": {"text": {"field": "txt"}}},
  {"transform": [{"filter": "datum.k=='bt'"}], "mark": {"type": "text", "align": "left", "dx": 3, "fontSize": 7}, "encoding": {"text": {"field": "txt"}}},
  {"transform": [{"filter": "datum.k=='fr'"}], "mark": {"type": "text", "align": "right", "dx": -3, "fontSize": 7, "fontStyle": "italic"}, "encoding": {"text": {"field": "txt"}}}
 ]},
{"title": "Anti-RBD", "width": 126, "height": 108, "transform": [{"filter": "datum.p=='b3'"}],
 "encoding": {"x": {"field": "x", "type": "quantitative", "scale": {"domain": [0, 300], "nice": false}, "axis": {"title": "Time (days after immunization)", "values": [0, 100, 200, 300]}},
  "y": {"field": "y", "type": "quantitative", "scale": {"type": "log", "domain": [1, 10000000], "nice": false}, "axis": {"title": "IgG1(ng/mL)", "values": [1, 10, 100, 1000, 10000, 100000, 1000000, 10000000], "labelExpr": "'10' + ['⁰','¹','²','³','⁴','⁵','⁶','⁷'][round(log(datum.value)/LN10)]"}}},
 "layer": [
  {"transform": [{"filter": "datum.k=='ref'"}], "mark": {"type": "rule", "strokeDash": [2, 1.5], "color": "#000", "strokeWidth": 0.9}, "encoding": {"x2": {"field": "x2"}}},
  {"transform": [{"filter": "datum.k=='br'"}], "mark": {"type": "rule", "color": "#72c2ee", "strokeWidth": 1.2}, "encoding": {"x2": {"field": "x2"}, "y2": {"field": "y2"}}},
  {"transform": [{"filter": "datum.k=='pt'"}], "mark": {"type": "rule", "strokeWidth": 1}, "encoding": {"y": {"field": "lo", "type": "quantitative", "scale": {"type": "log", "domain": [1, 10000000], "nice": false}}, "y2": {"field": "hi"}, "color": {"field": "g", "type": "nominal", "scale": {"domain": ["Sham", "N/S1/S2 MSR"], "range": ["#c8c8c8", "#8ccdf1"]}, "legend": null}}},
  {"transform": [{"filter": "datum.k=='pt'"}, {"fold": ["lo", "hi"], "as": ["cap", "cy"]}], "mark": {"type": "tick", "orient": "horizontal", "size": 5, "thickness": 1}, "encoding": {"y": {"field": "cy", "type": "quantitative", "scale": {"type": "log", "domain": [1, 10000000], "nice": false}}, "color": {"field": "g", "type": "nominal", "scale": {"domain": ["Sham", "N/S1/S2 MSR"], "range": ["#c8c8c8", "#8ccdf1"]}, "legend": null}}},
  {"transform": [{"filter": "datum.k=='pt'"}], "mark": {"type": "line", "color": "#333", "strokeWidth": 1}, "encoding": {"detail": {"field": "g"}}},
  {"transform": [{"filter": "datum.k=='pt'"}], "mark": {"type": "point", "filled": true, "size": 30, "stroke": "#222", "strokeWidth": 0.8, "opacity": 1}, "encoding": {"fill": {"field": "g", "type": "nominal", "scale": {"domain": ["Sham", "N/S1/S2 MSR"], "range": ["#dd6631", "#55b4e8"]}, "legend": null}, "shape": {"field": "g", "type": "nominal", "scale": {"domain": ["Sham", "N/S1/S2 MSR"], "range": ["circle", "square"]}, "legend": null}}},
  {"transform": [{"filter": "datum.k=='arr'"}], "mark": {"type": "rule", "color": "#000", "strokeWidth": 1.3}, "encoding": {"y2": {"field": "y2"}}},
  {"transform": [{"filter": "datum.k=='arr'"}], "mark": {"type": "point", "shape": "triangle-up", "filled": true, "color": "#000", "size": 28, "opacity": 1}, "encoding": {"y": {"field": "y2", "type": "quantitative", "scale": {"type": "log", "domain": [1, 10000000], "nice": false}}}},
  {"transform": [{"filter": "datum.k=='pv'"}], "mark": {"type": "text", "color": "#5ab4e6", "fontSize": 8}, "encoding": {"text": {"field": "txt"}}},
  {"transform": [{"filter": "datum.k=='bt'"}], "mark": {"type": "text", "align": "left", "dx": 3, "fontSize": 7}, "encoding": {"text": {"field": "txt"}}},
  {"transform": [{"filter": "datum.k=='fr'"}], "mark": {"type": "text", "align": "right", "dx": -3, "fontSize": 7, "fontStyle": "italic"}, "encoding": {"text": {"field": "txt"}}}
 ]}
]}
]},
{"spacing": 23, "title": {"text": "c", "anchor": "start", "fontSize": 15, "fontWeight": 400},
 "resolve": {"legend": {"fill": "independent", "shape": "independent"}},
 "hconcat": [
{"width": 129, "height": 108, "transform": [{"filter": "datum.p=='c1'"}],
 "encoding": {"x": {"field": "x", "type": "quantitative", "scale": {"domain": [0, 300], "nice": false}, "axis": {"title": "Time (days after immunization)", "values": [0, 100, 200, 300]}},
  "y": {"field": "y", "type": "quantitative", "scale": {"type": "log", "domain": [1, 10000000], "nice": false}, "axis": {"title": "IgG2a (ng/mL)", "values": [1, 10, 100, 1000, 10000, 100000, 1000000, 10000000], "labelExpr": "'10' + ['⁰','¹','²','³','⁴','⁵','⁶','⁷'][round(log(datum.value)/LN10)]"}}},
 "layer": [
  {"transform": [{"filter": "datum.k=='ref'"}], "mark": {"type": "rule", "strokeDash": [3, 2], "color": "#000", "strokeWidth": 1.1}, "encoding": {"x2": {"field": "x2"}}},
  {"transform": [{"filter": "datum.k=='br'"}], "mark": {"type": "rule", "color": "#72c2ee", "strokeWidth": 1.2}, "encoding": {"x2": {"field": "x2"}, "y2": {"field": "y2"}}},
  {"transform": [{"filter": "datum.k=='pt'"}], "mark": {"type": "rule", "strokeWidth": 1}, "encoding": {"y": {"field": "lo", "type": "quantitative", "scale": {"type": "log", "domain": [1, 10000000], "nice": false}}, "y2": {"field": "hi"}, "color": {"field": "g", "type": "nominal", "scale": {"domain": ["Sham", "N/S1/S2 MSR"], "range": ["#c8c8c8", "#8ccdf1"]}, "legend": null}}},
  {"transform": [{"filter": "datum.k=='pt'"}, {"fold": ["lo", "hi"], "as": ["cap", "cy"]}], "mark": {"type": "tick", "orient": "horizontal", "size": 5, "thickness": 1}, "encoding": {"y": {"field": "cy", "type": "quantitative", "scale": {"type": "log", "domain": [1, 10000000], "nice": false}}, "color": {"field": "g", "type": "nominal", "scale": {"domain": ["Sham", "N/S1/S2 MSR"], "range": ["#c8c8c8", "#8ccdf1"]}, "legend": null}}},
  {"transform": [{"filter": "datum.k=='pt'"}], "mark": {"type": "line", "color": "#333", "strokeWidth": 1}, "encoding": {"detail": {"field": "g"}}},
  {"transform": [{"filter": "datum.k=='pt'"}], "mark": {"type": "point", "filled": true, "size": 30, "stroke": "#222", "strokeWidth": 0.8, "opacity": 1}, "encoding": {"fill": {"field": "g", "type": "nominal", "scale": {"domain": ["Sham", "N/S1/S2 MSR"], "range": ["#dd6631", "#55b4e8"]}, "legend": null}, "shape": {"field": "g", "type": "nominal", "scale": {"domain": ["Sham", "N/S1/S2 MSR"], "range": ["circle", "square"]}, "legend": null}}},
  {"transform": [{"filter": "datum.k=='arr'"}], "mark": {"type": "rule", "color": "#000", "strokeWidth": 1.3}, "encoding": {"y2": {"field": "y2"}}},
  {"transform": [{"filter": "datum.k=='arr'"}], "mark": {"type": "point", "shape": "triangle-up", "filled": true, "color": "#000", "size": 28, "opacity": 1}, "encoding": {"y": {"field": "y2", "type": "quantitative", "scale": {"type": "log", "domain": [1, 10000000], "nice": false}}}},
  {"transform": [{"filter": "datum.k=='pv'"}], "mark": {"type": "text", "color": "#5ab4e6", "fontSize": 8}, "encoding": {"text": {"field": "txt"}}},
  {"transform": [{"filter": "datum.k=='bt'"}], "mark": {"type": "text", "align": "left", "dx": 3, "fontSize": 7}, "encoding": {"text": {"field": "txt"}}},
  {"transform": [{"filter": "datum.k=='fr'"}], "mark": {"type": "text", "align": "right", "dx": -3, "fontSize": 7, "fontStyle": "italic"}, "encoding": {"text": {"field": "txt"}}}
 ]},
{"width": 125, "height": 108, "transform": [{"filter": "datum.p=='c2'"}],
 "encoding": {"x": {"field": "x", "type": "quantitative", "scale": {"domain": [0, 300], "nice": false}, "axis": {"title": "Time (days after immunization)", "values": [0, 100, 200, 300]}},
  "y": {"field": "y", "type": "quantitative", "scale": {"type": "log", "domain": [1, 10000000], "nice": false}, "axis": {"title": "IgG2a (ng/mL)", "values": [1, 10, 100, 1000, 10000, 100000, 1000000, 10000000], "labelExpr": "'10' + ['⁰','¹','²','³','⁴','⁵','⁶','⁷'][round(log(datum.value)/LN10)]"}}},
 "layer": [
  {"transform": [{"filter": "datum.k=='ref'"}], "mark": {"type": "rule", "strokeDash": [2, 1.5], "color": "#000", "strokeWidth": 0.9}, "encoding": {"x2": {"field": "x2"}}},
  {"transform": [{"filter": "datum.k=='br'"}], "mark": {"type": "rule", "color": "#72c2ee", "strokeWidth": 1.2}, "encoding": {"x2": {"field": "x2"}, "y2": {"field": "y2"}}},
  {"transform": [{"filter": "datum.k=='pt'"}], "mark": {"type": "rule", "strokeWidth": 1}, "encoding": {"y": {"field": "lo", "type": "quantitative", "scale": {"type": "log", "domain": [1, 10000000], "nice": false}}, "y2": {"field": "hi"}, "color": {"field": "g", "type": "nominal", "scale": {"domain": ["Sham", "N/S1/S2 MSR"], "range": ["#c8c8c8", "#8ccdf1"]}, "legend": null}}},
  {"transform": [{"filter": "datum.k=='pt'"}, {"fold": ["lo", "hi"], "as": ["cap", "cy"]}], "mark": {"type": "tick", "orient": "horizontal", "size": 5, "thickness": 1}, "encoding": {"y": {"field": "cy", "type": "quantitative", "scale": {"type": "log", "domain": [1, 10000000], "nice": false}}, "color": {"field": "g", "type": "nominal", "scale": {"domain": ["Sham", "N/S1/S2 MSR"], "range": ["#c8c8c8", "#8ccdf1"]}, "legend": null}}},
  {"transform": [{"filter": "datum.k=='pt'"}], "mark": {"type": "line", "color": "#333", "strokeWidth": 1}, "encoding": {"detail": {"field": "g"}}},
  {"transform": [{"filter": "datum.k=='pt'"}], "mark": {"type": "point", "filled": true, "size": 30, "stroke": "#222", "strokeWidth": 0.8, "opacity": 1}, "encoding": {
    "fill": {"field": "g", "type": "nominal", "scale": {"domain": ["Sham", "N/S1/S2 MSR"], "range": ["#dd6631", "#55b4e8"]}, "legend": {"title": null, "orient": "none", "legendX": -28, "legendY": 136, "direction": "horizontal", "labelFontSize": 11, "labelColor": "#000", "symbolSize": 40, "columnPadding": 36, "symbolStrokeColor": "#333", "symbolStrokeWidth": 1, "encode": {"symbols": {"update": {"shape": {"signal": "datum.value === 'Sham' ? 'M-2,0H-0.8M0.8,0H2M0.8,0A0.8,0.8,0,1,1,-0.8,0A0.8,0.8,0,1,1,0.8,0Z' : 'M-2,0H-0.8M0.8,0H2M-0.8,-0.8H0.8V0.8H-0.8Z'"}, "stroke": {"value": "#333"}, "strokeWidth": {"value": 1}}}}}},
    "shape": {"field": "g", "type": "nominal", "scale": {"domain": ["Sham", "N/S1/S2 MSR"], "range": ["circle", "square"]}, "legend": {"title": null, "orient": "none", "legendX": -28, "legendY": 136, "direction": "horizontal", "labelFontSize": 11, "labelColor": "#000", "symbolSize": 40, "columnPadding": 36, "symbolStrokeColor": "#333", "symbolStrokeWidth": 1, "encode": {"symbols": {"update": {"shape": {"signal": "datum.value === 'Sham' ? 'M-2,0H-0.8M0.8,0H2M0.8,0A0.8,0.8,0,1,1,-0.8,0A0.8,0.8,0,1,1,0.8,0Z' : 'M-2,0H-0.8M0.8,0H2M-0.8,-0.8H0.8V0.8H-0.8Z'"}, "stroke": {"value": "#333"}, "strokeWidth": {"value": 1}}}}}}}},
  {"transform": [{"filter": "datum.k=='arr'"}], "mark": {"type": "rule", "color": "#000", "strokeWidth": 1.3}, "encoding": {"y2": {"field": "y2"}}},
  {"transform": [{"filter": "datum.k=='arr'"}], "mark": {"type": "point", "shape": "triangle-up", "filled": true, "color": "#000", "size": 28, "opacity": 1}, "encoding": {"y": {"field": "y2", "type": "quantitative", "scale": {"type": "log", "domain": [1, 10000000], "nice": false}}}},
  {"transform": [{"filter": "datum.k=='pv'"}], "mark": {"type": "text", "color": "#5ab4e6", "fontSize": 8}, "encoding": {"text": {"field": "txt"}}},
  {"transform": [{"filter": "datum.k=='bt'"}], "mark": {"type": "text", "align": "left", "dx": 3, "fontSize": 7}, "encoding": {"text": {"field": "txt"}}},
  {"transform": [{"filter": "datum.k=='fr'"}], "mark": {"type": "text", "align": "right", "dx": -3, "fontSize": 7, "fontStyle": "italic"}, "encoding": {"text": {"field": "txt"}}}
 ]},
{"width": 126, "height": 108, "transform": [{"filter": "datum.p=='c3'"}],
 "encoding": {"x": {"field": "x", "type": "quantitative", "scale": {"domain": [0, 300], "nice": false}, "axis": {"title": "Time (days after immunization)", "values": [0, 100, 200, 300]}},
  "y": {"field": "y", "type": "quantitative", "scale": {"type": "log", "domain": [1, 10000000], "nice": false}, "axis": {"title": "IgG2a (ng/mL)", "values": [1, 10, 100, 1000, 10000, 100000, 1000000, 10000000], "labelExpr": "'10' + ['⁰','¹','²','³','⁴','⁵','⁶','⁷'][round(log(datum.value)/LN10)]"}}},
 "layer": [
  {"transform": [{"filter": "datum.k=='ref'"}], "mark": {"type": "rule", "strokeDash": [3, 2], "color": "#000", "strokeWidth": 1.1}, "encoding": {"x2": {"field": "x2"}}},
  {"transform": [{"filter": "datum.k=='br'"}], "mark": {"type": "rule", "color": "#72c2ee", "strokeWidth": 1.2}, "encoding": {"x2": {"field": "x2"}, "y2": {"field": "y2"}}},
  {"transform": [{"filter": "datum.k=='pt'"}], "mark": {"type": "rule", "strokeWidth": 1}, "encoding": {"y": {"field": "lo", "type": "quantitative", "scale": {"type": "log", "domain": [1, 10000000], "nice": false}}, "y2": {"field": "hi"}, "color": {"field": "g", "type": "nominal", "scale": {"domain": ["Sham", "N/S1/S2 MSR"], "range": ["#c8c8c8", "#8ccdf1"]}, "legend": null}}},
  {"transform": [{"filter": "datum.k=='pt'"}, {"fold": ["lo", "hi"], "as": ["cap", "cy"]}], "mark": {"type": "tick", "orient": "horizontal", "size": 5, "thickness": 1}, "encoding": {"y": {"field": "cy", "type": "quantitative", "scale": {"type": "log", "domain": [1, 10000000], "nice": false}}, "color": {"field": "g", "type": "nominal", "scale": {"domain": ["Sham", "N/S1/S2 MSR"], "range": ["#c8c8c8", "#8ccdf1"]}, "legend": null}}},
  {"transform": [{"filter": "datum.k=='pt'"}], "mark": {"type": "line", "color": "#333", "strokeWidth": 1}, "encoding": {"detail": {"field": "g"}}},
  {"transform": [{"filter": "datum.k=='pt'"}], "mark": {"type": "point", "filled": true, "size": 30, "stroke": "#222", "strokeWidth": 0.8, "opacity": 1}, "encoding": {"fill": {"field": "g", "type": "nominal", "scale": {"domain": ["Sham", "N/S1/S2 MSR"], "range": ["#dd6631", "#55b4e8"]}, "legend": null}, "shape": {"field": "g", "type": "nominal", "scale": {"domain": ["Sham", "N/S1/S2 MSR"], "range": ["circle", "square"]}, "legend": null}}},
  {"transform": [{"filter": "datum.k=='arr'"}], "mark": {"type": "rule", "color": "#000", "strokeWidth": 1.3}, "encoding": {"y2": {"field": "y2"}}},
  {"transform": [{"filter": "datum.k=='arr'"}], "mark": {"type": "point", "shape": "triangle-up", "filled": true, "color": "#000", "size": 28, "opacity": 1}, "encoding": {"y": {"field": "y2", "type": "quantitative", "scale": {"type": "log", "domain": [1, 10000000], "nice": false}}}},
  {"transform": [{"filter": "datum.k=='pv'"}], "mark": {"type": "text", "color": "#5ab4e6", "fontSize": 8}, "encoding": {"text": {"field": "txt"}}},
  {"transform": [{"filter": "datum.k=='bt'"}], "mark": {"type": "text", "align": "left", "dx": 3, "fontSize": 7}, "encoding": {"text": {"field": "txt"}}},
  {"transform": [{"filter": "datum.k=='fr'"}], "mark": {"type": "text", "align": "right", "dx": -3, "fontSize": 7, "fontStyle": "italic"}, "encoding": {"text": {"field": "txt"}}}
 ]}
]}
]
}
